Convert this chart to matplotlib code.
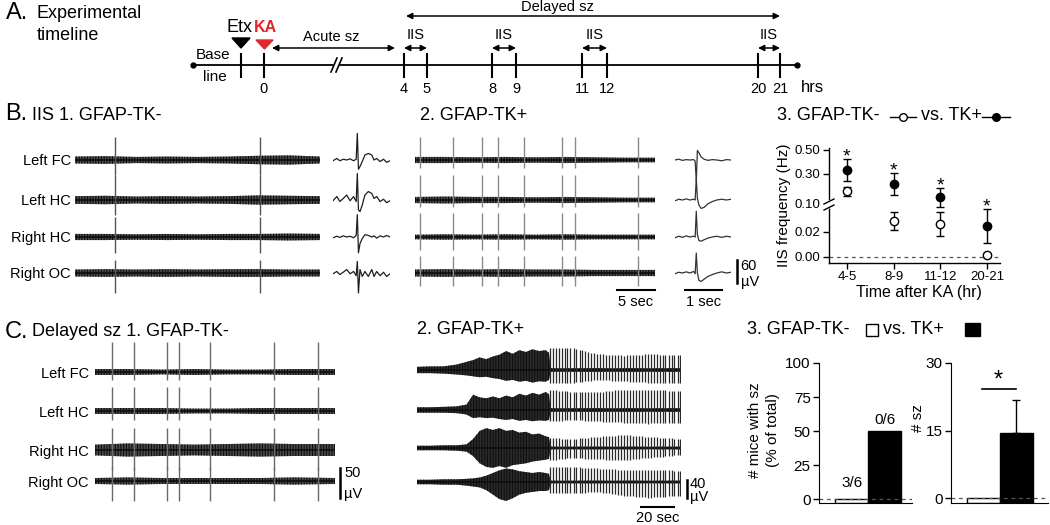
import numpy as np
import matplotlib
matplotlib.use("Agg")
import matplotlib.pyplot as plt
from matplotlib.patches import Rectangle

plt.rcParams["font.family"] = ["Liberation Sans", "DejaVu Sans"]
plt.rcParams["hatch.linewidth"] = 0.8

W, H = 1050, 525
fig = plt.figure(figsize=(W / 100, H / 100), dpi=100)

# ---------------- data ----------------
channels = ["Left FC", "Left HC", "Right HC", "Right OC"]

# A. timeline (hours after KA)
tl_hours = ["0", "4", "5", "8", "9", "11", "12", "20", "21"]
iis_windows = [("4", "5"), ("8", "9"), ("11", "12"), ("20", "21")]

# B1 / B2: IIS times in the 32 s traces (s), spike sizes (uV) per channel
b_noise_t = [0, 4, 8, 12, 16, 20, 24, 28, 32]
b1_iis_t = [5.2, 24.3]
b1_up = [60, 65, 52, 34]
b1_dn = [39, 39, 42, 52]
b1_noise = [[9, 10, 8, 9, 8, 9, 11, 12, 9],
            [10, 11, 9, 10, 9, 10, 12, 11, 10],
            [8, 8, 7, 8, 7, 8, 8, 9, 8],
            [9, 10, 9, 10, 9, 10, 10, 9, 9]]
b2_iis_t = [0.7, 5.0, 8.8, 10.9, 14.3, 19.4, 21.1, 29.4]
b2_up = [60, 65, 62, 44]
b2_dn = [21, 18, 34, 34]
b2_noise = [[8, 8, 7, 8, 7, 8, 7, 6, 6],
            [8, 9, 8, 8, 7, 8, 7, 6, 6],
            [6, 7, 6, 7, 6, 7, 6, 6, 6],
            [9, 10, 9, 10, 9, 9, 8, 8, 8]]

# single IIS (1.5 s window), uV
b1_one_t = [0.00, 0.10, 0.18, 0.27, 0.36, 0.45, 0.54, 0.61, 0.64, 0.67, 0.71,
            0.77, 0.84, 0.93, 1.02, 1.08, 1.15, 1.24, 1.33, 1.41, 1.50]
b1_one = [
    [-2, 4, -2, 2, 0, 3, -2, 2, 69, -24, -17, -4, 13, 17, 13, 0, 4, -4, 2, -6, -2],
    [-2, 9, -4, 4, 13, -2, 9, -4, 69, -26, -30, -13, 13, 22, 17, 4, 9, -4, 2, -7, -2],
    [-2, 2, -1, 3, 0, 2, -2, 4, 58, -41, -17, -4, 6, 4, 0, 3, -3, 3, 0, 4, 0],
    [-2, 4, -4, 2, 9, -2, 4, -7, 30, -52, 9, -9, 4, -9, 9, -9, 4, -7, 2, -9, -2],
]
b2_one_t = [0.0, 0.1, 0.2, 0.3, 0.4, 0.5, 0.54, 0.57, 0.60, 0.64, 0.70, 0.78,
            0.88, 1.0, 1.12, 1.25, 1.38, 1.5]
b2_one = [
    [0, 2, -1, 1, 0, 1, -3, -55, 25, 19, 8, 2, -1, 1, 0, -2, 1, 0],
    [-2, 2, 0, 3, 0, 2, 0, 56, 4, -13, -22, -19, -10, -4, 0, 2, 0, 2],
    [-2, 2, -1, 3, 0, 2, 0, 67, 6, -9, -11, -7, -3, 0, 2, -1, 2, 0],
    [-2, 2, 0, 3, 0, 4, -2, 52, 0, -19, -22, -16, -9, -4, 0, 3, 0, 2],
]

# B3: IIS frequency (Hz)
periods = ["4-5", "8-9", "11-12", "20-21"]
iis_tkm = [0.187, 0.051, 0.043, 0.0016]
iis_tkm_lo = [0.153, 0.026, 0.0168, 0.0]
iis_tkm_hi = [0.213, 0.077, 0.077, 0.003]
iis_tkp = [0.333, 0.233, 0.147, 0.037]
iis_tkp_lo = [0.253, 0.160, 0.091, 0.0112]
iis_tkp_hi = [0.425, 0.308, 0.207, 0.086]
yticks_b3 = [0.0, 0.02, 0.10, 0.30, 0.50]

# C1: delayed sz, GFAP-TK- (145 s)
c1_noise_t = [0, 20, 40, 60, 80, 100, 120, 145]
c1_spk_t = [10.3, 23.6, 43.6, 50.9, 69.7, 107.9, 134.5]
c1_up = [50, 40, 37, 23]
c1_dn = [13, 15, 33, 33]
c1_noise = [[5, 5, 4, 5, 4, 4, 5, 5],
            [5, 5, 5, 4, 4, 5, 5, 5],
            [9, 11, 10, 9, 10, 11, 10, 10],
            [5, 6, 5, 5, 5, 5, 6, 5]]

# C2: seizure, GFAP-TK+ (160 s); envelope of the fast activity (uV)
c2_band_t = [0, 8, 16, 24, 30, 34, 38, 42, 46, 50, 54, 58, 62, 66, 70, 74, 78,
             80, 81, 160]
c2_band_up = [
    [7, 8, 8, 12, 18, 22, 28, 24, 30, 34, 42, 36, 44, 40, 46, 42, 44, 38, 4, 4],
    [6, 6, 7, 8, 12, 34, 28, 26, 30, 26, 32, 28, 36, 32, 38, 34, 40, 35, 4, 4],
    [5, 5, 6, 6, 8, 20, 38, 44, 40, 44, 38, 40, 34, 36, 30, 32, 26, 24, 3, 3],
    [5, 5, 6, 6, 7, 8, 10, 14, 20, 26, 30, 28, 24, 22, 20, 22, 20, 18, 3, 3],
]
c2_band_dn = [
    [7, 7, 8, 10, 12, 14, 16, 15, 18, 20, 24, 22, 26, 24, 28, 25, 26, 22, 4, 4],
    [6, 6, 6, 7, 10, 18, 16, 18, 17, 20, 22, 20, 24, 22, 25, 23, 24, 22, 4, 4],
    [5, 5, 5, 6, 8, 18, 34, 42, 44, 40, 44, 38, 36, 34, 30, 28, 26, 24, 3, 3],
    [5, 5, 6, 6, 8, 10, 12, 18, 28, 38, 42, 36, 28, 24, 22, 20, 20, 18, 3, 3],
]
# spike-wave discharges after ~80 s
c2_spk_t = [80.5, 82.3, 84.0, 85.9, 87.6, 89.5, 91.2, 93.0, 94.9, 96.6, 98.5,
            100.3, 102.0, 103.9, 105.7, 107.4, 109.3, 111.1, 112.8, 114.7,
            116.5, 118.2, 120.1, 121.9, 123.6, 125.5, 127.3, 129.0, 130.9,
            132.7, 134.4, 136.3, 138.1, 139.8, 141.7, 143.5, 145.2, 147.1,
            148.9, 150.6, 152.5, 154.3, 156.0, 157.9, 159.6]
c2_env_t = [80, 95, 110, 125, 140, 160]
c2_spk_up = [[50, 48, 35, 32, 35, 33], [45, 40, 40, 45, 45, 42],
             [22, 20, 25, 29, 25, 20], [33, 33, 30, 27, 27, 25]]
c2_spk_dn = [[30, 28, 22, 25, 28, 28], [25, 22, 25, 28, 30, 28],
             [27, 22, 25, 27, 22, 15], [25, 25, 22, 30, 35, 30]]

# C3
groups = ["GFAP-TK-", "GFAP-TK+"]
pct_mice_sz = [0, 50]
n_sz = [0, 14.5]
n_sz_err = [0, 7.2]


# ---------------- helpers ----------------
def px_axes(l, t, r, b):
    return fig.add_axes([l / W, 1 - b / H, (r - l) / W, (b - t) / H])


def trace_axes(l, r, top, bot, span, uvpx, bases):
    ax = px_axes(l, top, r, bot)
    ax.set_xlim(0, span)
    ymax = (bases[0] - top) * uvpx
    ax.set_ylim(ymax - (bot - top) * uvpx, ymax)
    ax.axis("off")
    offs = [-(b - bases[0]) * uvpx for b in bases]
    return ax, offs


def eeg_band(ax, t, off, up, dn, face="#4c4c4c"):
    # dense EEG drawn as a hatched envelope: grey fill + dark vertical strokes
    ax.fill_between(t, off - np.array(dn), off + np.array(up), facecolor=face,
                    edgecolor="#0e0e0e", hatch="||||||", lw=0)
    ax.plot(t, np.full(len(t), off), color="#0e0e0e", lw=1.2)


def noisy_traces(ax, offs, nt, noise, spk_t, up, dn, spk_color):
    for i, off in enumerate(offs):
        eeg_band(ax, nt, off, noise[i], noise[i])
        ax.vlines(spk_t, off - dn[i], off + up[i], color=spk_color, lw=1.0)


TRACE = "#1e1e1e"

# ---------------- B1 ----------------
b_bases = [160, 200, 237, 273]
ax, offs = trace_axes(75, 320, 125, 300, 32.2, 2.6, b_bases)
nt = np.array(b_noise_t) * 32.2 / 32
noisy_traces(ax, offs, nt, b1_noise, b1_iis_t, b1_up, b1_dn, "#555555")

ax, offs = trace_axes(333, 390, 125, 300, 1.5, 2.6, b_bases)
for i, off in enumerate(offs):
    ax.plot(b1_one_t, np.array(b1_one[i]) + off, color=TRACE, lw=0.9)

# ---------------- B2 ----------------
ax, offs = trace_axes(415, 655, 125, 300, 31.6, 2.6, b_bases)
nt = np.array(b_noise_t) * 31.6 / 32
noisy_traces(ax, offs, nt, b2_noise, b2_iis_t, b2_up, b2_dn, "#8a8a8a")
ax.plot([26.6, 31.6], [-338, -338], color="k", lw=1.5, clip_on=False)
ax.text(29.1, -350, "5 sec", ha="center", va="top", fontsize=10.5)

ax, offs = trace_axes(675, 731, 125, 300, 1.5, 2.6, b_bases)
for i, off in enumerate(offs):
    ax.plot(b2_one_t, np.array(b2_one[i]) + off, color="#333333", lw=0.9)
ax.plot([0.26, 1.26], [-338, -338], color="k", lw=1.5, clip_on=False)
ax.text(0.76, -350, "1 sec", ha="center", va="top", fontsize=10.5)
ax.plot([1.66, 1.66], [-320, -260], color="k", lw=1.8, clip_on=False)
ax.text(1.76, -275, "60", ha="left", va="center", fontsize=10.5)
ax.text(1.76, -318, "\u00b5V", ha="left", va="center", fontsize=10.5)

# ---------------- B3 ----------------
h_anchor = [-6, 0, 25, 53, 83, 107, 130]
v_anchor = [-0.0048, 0.0, 0.02, 0.10, 0.30, 0.50, 0.70]


def fwd(v):
    return np.interp(v, v_anchor, h_anchor)


def inv(h):
    return np.interp(h, h_anchor, v_anchor)


ax3 = px_axes(829, 148, 1000, 263)
ax3.set_yscale("function", functions=(fwd, inv))
ax3.set_ylim(-0.0048, 0.517)
xs = np.arange(len(periods))
ax3.set_xlim(-0.385, 3.28)
ax3.axhline(0, color="#555555", ls=(0, (3, 3)), lw=0.9)
m = np.array(iis_tkm)
ax3.errorbar(xs, m, yerr=[m - np.array(iis_tkm_lo), np.array(iis_tkm_hi) - m],
             fmt="o", ms=6, mfc="white", mec="k", color="k", capsize=3, lw=1)
p = np.array(iis_tkp)
ax3.errorbar(xs, p, yerr=[p - np.array(iis_tkp_lo), np.array(iis_tkp_hi) - p],
             fmt="o", ms=6, mfc="k", mec="k", color="k", capsize=3, lw=1)
for x, hi in zip(xs, iis_tkp_hi):
    ax3.annotate("*", (x, hi), xytext=(0, -2), textcoords="offset points",
                 ha="center", va="baseline", fontsize=14)
ax3.set_yticks(yticks_b3)
ax3.set_yticklabels(["%.2f" % v for v in yticks_b3], fontsize=9.5)
ax3.set_xticks(xs)
ax3.set_xticklabels(periods, fontsize=9.5)
ax3.tick_params(direction="out", length=4, width=1, pad=2)
for s in ["top", "right"]:
    ax3.spines[s].set_visible(False)
ax3.spines["left"].set_linewidth(1)
ax3.spines["bottom"].set_linewidth(1)
ax3.patch.set_alpha(0)

# ---------------- C1 ----------------
c1_bases = [372, 411, 450, 481]
ax, offs = trace_axes(95, 335, 335, 510, 145, 1.67, c1_bases)
noisy_traces(ax, offs, c1_noise_t, c1_noise, c1_spk_t, c1_up, c1_dn, "#6a6a6a")
ax.plot([148, 148], [-210, -160], color="k", lw=1.8, clip_on=False)
ax.text(150.5, -168, "50", ha="left", va="center", fontsize=10.5)
ax.text(150.5, -203, "\u00b5V", ha="left", va="center", fontsize=10.5)

# ---------------- C2 ----------------
c2_bases = [370, 410, 448, 482]
ax, offs = trace_axes(417, 681, 335, 510, 160, 2.22, c2_bases)
for i, off in enumerate(offs):
    eeg_band(ax, c2_band_t, off, c2_band_up[i], c2_band_dn[i], face="#2c2c2c")
    hu = np.interp(c2_spk_t, c2_env_t, c2_spk_up[i])
    hd = np.interp(c2_spk_t, c2_env_t, c2_spk_dn[i])
    ax.vlines(c2_spk_t, off - hd, off + hu, color="#2a2a2a", lw=0.9)
ax.plot([136, 156], [-304, -304], color="k", lw=1.5, clip_on=False)
ax.text(146, -312, "20 sec", ha="center", va="top", fontsize=10.5)
ax.plot([163.6, 163.6], [-284, -244], color="k", lw=1.8, clip_on=False)
ax.text(165.5, -252, "40", ha="left", va="center", fontsize=10.5)
ax.text(165.5, -282, "\u00b5V", ha="left", va="center", fontsize=10.5)

# ---------------- C3 ----------------
axl = px_axes(819, 363, 912, 503)
axl.set_ylim(-2.9, 100)
axl.set_xlim(-1.0, 1.82)
axl.axhline(0, color="#555555", ls=(0, (3, 3)), lw=0.9)
axl.bar([0, 1], np.array(pct_mice_sz) + 2.9, bottom=-2.9, width=1.0,
        color=["white", "black"], edgecolor="black", lw=1)
axl.annotate("3/6", (0, pct_mice_sz[0]), xytext=(0, 11.5), textcoords="offset points",
             ha="center", va="center", fontsize=11)
axl.annotate("0/6", (1, pct_mice_sz[1]), xytext=(0, 8), textcoords="offset points",
             ha="center", va="center", fontsize=11)
axl.set_yticks([0, 25, 50, 75, 100])

axr = px_axes(951, 363, 1048, 503)
axr.set_ylim(-1.1, 30)
axr.set_xlim(-0.98, 1.97)
axr.axhline(0, color="#555555", ls=(0, (3, 3)), lw=0.9)
axr.bar([0, 1], np.array(n_sz) + 1.1, bottom=-1.1, width=1.0,
        color=["white", "black"], edgecolor="black", lw=1)
axr.errorbar([1], [n_sz[1]], yerr=[[0], [n_sz_err[1]]], fmt="none", color="k",
             capsize=3, lw=1)
axr.plot([-0.05, 1.0], [24.2, 24.2], color="k", lw=1.2)
axr.text(0.47, 26.0, "*", ha="center", va="center", fontsize=17)
axr.set_yticks([0, 15, 30])

for a in (axl, axr):
    a.set_xticks([])
    a.tick_params(axis="y", direction="out", length=4, width=1, labelsize=11, pad=2)
    for s in ["top", "right"]:
        a.spines[s].set_visible(False)
    a.patch.set_alpha(0)

# ---------------- overlay: text and timeline ----------------
ov = fig.add_axes([0, 0, 1, 1])
ov.set_xlim(0, W)
ov.set_ylim(H, 0)
ov.axis("off")

# A. timeline
ov.text(6, 13, "A.", fontsize=17, va="center")
ov.text(37, 13, "Experimental", fontsize=13, va="center")
ov.text(37, 36, "timeline", fontsize=13, va="center")

tl_x = [264, 404, 427, 492, 516, 582, 607, 758, 780]
ov.plot([193, 797], [65, 65], color="k", lw=1.3)
ov.plot([193, 797], [65, 65], "o", color="k", ms=3.5)
for x in [241] + tl_x:
    ov.plot([x, x], [54, 77], color="k", lw=1.5)
for lab, x in zip(tl_hours, tl_x):
    ov.text(x, 89, lab, ha="center", va="center", fontsize=10.5)
ov.text(801, 87, "hrs", ha="left", va="center", fontsize=12)
ov.text(213, 55, "Base", ha="center", va="center", fontsize=11)
ov.text(215, 77, "line", ha="center", va="center", fontsize=11)
# axis break
ov.fill([331, 337, 342, 336], [72, 58, 58, 72], color="white", zorder=3)
ov.plot([331, 337], [72, 58], color="k", lw=1.2, zorder=4)
ov.plot([336, 342], [72, 58], color="k", lw=1.2, zorder=4)
# injections
ov.fill([232, 250, 241], [38, 38, 48], color="k")
ov.text(239, 28, "Etx", ha="center", va="center", fontsize=13)
ov.fill([256, 273, 264.5], [40, 40, 49], color="#e3262b")
ov.text(265, 28, "KA", ha="center", va="center", fontsize=11.5,
        color="#e3262b", fontweight="bold")

arrow = dict(arrowstyle="<|-|>", color="k", lw=1.1, mutation_scale=9,
             shrinkA=0, shrinkB=0)
ov.annotate("", xy=(395, 48), xytext=(272, 48), arrowprops=arrow)
ov.text(331, 37, "Acute sz", ha="center", va="center", fontsize=10.5)
ov.annotate("", xy=(780, 16), xytext=(406, 16), arrowprops=arrow)
ov.text(557, 7, "Delayed sz", ha="center", va="center", fontsize=10.5)
pos = dict(zip(tl_hours, tl_x))
for a, b in iis_windows:
    ov.annotate("", xy=(pos[b], 48), xytext=(pos[a], 48), arrowprops=arrow)
    ov.text((pos[a] + pos[b]) / 2, 35, "IIS", ha="center", va="center", fontsize=10.5)

# B titles and labels
ov.text(5, 114, "B.", fontsize=17, va="center")
ov.text(32, 115, "IIS 1. GFAP-TK-", fontsize=13, va="center")
ov.text(420, 115, "2. GFAP-TK+", fontsize=13, va="center")
for lab, y in zip(channels, b_bases):
    ov.text(71, y + 1, lab, ha="right", va="center", fontsize=10.5)

ov.text(777, 116, "3. GFAP-TK-", fontsize=13, va="center")
ov.plot([890, 916], [117, 117], color="k", lw=1)
ov.plot(903, 117, "o", ms=5.5, mfc="white", mec="k", mew=1)
ov.text(921, 116, "vs. TK+", fontsize=13, va="center")
ov.plot([982, 1010], [117, 117], color="k", lw=1)
ov.plot(996, 117, "o", ms=5.5, color="k")
ov.text(784, 205, "IIS frequency (Hz)", rotation=90, ha="center", va="center",
        fontsize=11)
ov.text(919, 292, "Time after KA (hr)", ha="center", va="center", fontsize=11.5)
# y-axis break in B3
ov.fill([824, 834, 834, 824], [203, 199, 206, 210], color="white", zorder=3)
ov.plot([824, 834], [204, 199], color="k", lw=1, zorder=4)
ov.plot([824, 834], [210, 205], color="k", lw=1, zorder=4)

# C titles and labels
ov.text(5, 332, "C.", fontsize=17, va="center")
ov.text(32, 332, "Delayed sz 1. GFAP-TK-", fontsize=13, va="center")
ov.text(417, 330, "2. GFAP-TK+", fontsize=13, va="center")
for lab, y in zip(channels, c1_bases):
    ov.text(89, y + 2, lab, ha="right", va="center", fontsize=10.5)

ov.text(747, 330, "3. GFAP-TK-", fontsize=13, va="center")
ov.add_patch(Rectangle((866, 324), 12, 12, fc="white", ec="k", lw=1))
ov.text(883, 330, "vs. TK+", fontsize=13, va="center")
ov.add_patch(Rectangle((965, 323), 15, 13, fc="k", ec="k", lw=1))
ov.text(755, 430, "# mice with sz", rotation=90, ha="center", va="center", fontsize=11)
ov.text(773, 430, "(% of total)", rotation=90, ha="center", va="center", fontsize=11)
ov.text(918, 418, "# sz", rotation=90, ha="center", va="center", fontsize=11)

fig.savefig("out.png", dpi=100)
